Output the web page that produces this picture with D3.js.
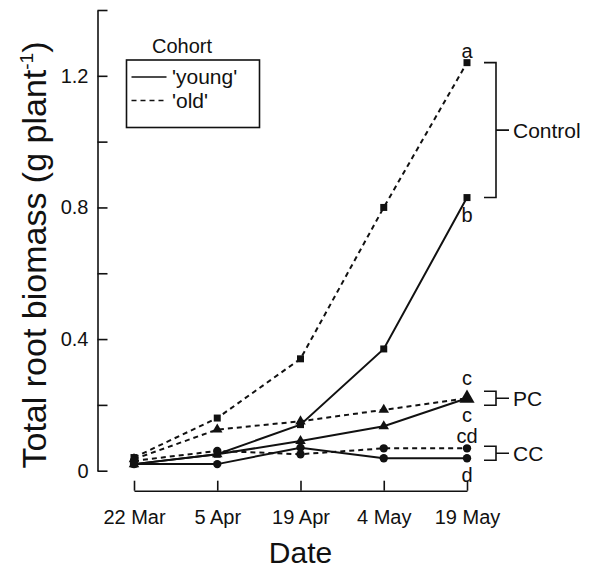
<!DOCTYPE html>
<html>
<head>
<meta charset="utf-8">
<script src="https://cdn.jsdelivr.net/npm/d3@7"></script>
<style>
  body { margin: 0; background: #fff; }
  svg { font-family: "Liberation Sans", Arial, sans-serif; }
</style>
</head>
<body>
<svg id="chart"></svg>
<script>
// dates and biomass (g plant-1)
const dates = ["22 Mar", "5 Apr", "19 Apr", "4 May", "19 May"];
const controlOld = [0.04, 0.16, 0.34, 0.80, 1.24];
const controlYoung = [0.02, 0.05, 0.14, 0.37, 0.83];
const pcOld = [0.035, 0.125, 0.15, 0.185, 0.22];
const pcYoung = [0.02, 0.05, 0.09, 0.135, 0.22];
const ccOld = [0.03, 0.06, 0.05, 0.068, 0.068];
const ccYoung = [0.02, 0.02, 0.07, 0.038, 0.038];

const yTicks = [0, 0.2, 0.4, 0.6, 0.8, 1.0, 1.2, 1.4];
const yTickLabels = ["0", "", "0.4", "", "0.8", "", "1.2", ""];

const series = [
    { values: controlOld, cohort: "old", marker: "square" },
    { values: controlYoung, cohort: "young", marker: "square" },
    { values: pcOld, cohort: "old", marker: "triangle" },
    { values: pcYoung, cohort: "young", marker: "triangle" },
    { values: ccOld, cohort: "old", marker: "circle" },
    { values: ccYoung, cohort: "young", marker: "circle" }
];

// letters next to the last point
const letters = [
    { text: "a", s: 0, side: "above" },
    { text: "b", s: 1, side: "below" },
    { text: "c", s: 2, side: "above" },
    { text: "c", s: 3, side: "below" },
    { text: "cd", s: 4, side: "above" },
    { text: "d", s: 5, side: "below" }
];

const groups = [
    { name: "Control", s: [0, 1] },
    { name: "PC", s: [2, 3] },
    { name: "CC", s: [4, 5] }
];

const width = 591, height = 570;

const svg = d3.select("#chart")
    .attr("width", width)
    .attr("height", height);

const x = d3.scalePoint().domain(dates).range([134, 467]);
const y = d3.scaleLinear().domain([0, 1.4]).range([470.7, 10]);

// y axis, ticks pointing inward
const yAxis = svg.append("g")
    .attr("transform", "translate(97.5,0)")
    .call(d3.axisLeft(y)
        .tickValues(yTicks)
        .tickFormat((d, i) => yTickLabels[i])
        .tickSizeInner(-10)
        .tickSizeOuter(0)
        .tickPadding(9));

// x axis below, ticks pointing up
const xAxis = svg.append("g")
    .attr("transform", "translate(0,490.7)")
    .call(d3.axisBottom(x)
        .tickSizeInner(-10)
        .tickSizeOuter(0)
        .tickPadding(19));

[yAxis, xAxis].forEach(ax => {
    ax.selectAll("path, line").attr("stroke", "#111").attr("stroke-width", 1.6);
    ax.selectAll("text")
        .attr("fill", "#111")
        .style("font-size", "20px")
        .style("font-family", "Liberation Sans, Arial, sans-serif");
});

// axis titles
svg.append("text")
    .attr("x", (134 + 467) / 2)
    .attr("y", 563)
    .attr("text-anchor", "middle")
    .style("font-size", "30px")
    .attr("fill", "#111")
    .text("Date");

const yTitle = svg.append("text")
    .attr("transform", "translate(46,255) rotate(-90)")
    .attr("text-anchor", "middle")
    .style("font-size", "34px")
    .attr("fill", "#111");
yTitle.append("tspan").text("Total root biomass (g plant");
yTitle.append("tspan").attr("dy", -13).style("font-size", "19px").text("-1");
yTitle.append("tspan").attr("dy", 13).text(")");

// lines
const line = d3.line()
    .x((d, i) => x(dates[i]))
    .y(d => y(d));

svg.selectAll(".series")
    .data(series)
    .enter()
    .append("path")
    .attr("class", "series")
    .attr("fill", "none")
    .attr("stroke", "#111")
    .attr("stroke-width", 2)
    .attr("stroke-dasharray", d => d.cohort === "old" ? "5,4" : null)
    .attr("d", d => line(d.values));

// markers
const symbolFor = { square: d3.symbolSquare, triangle: d3.symbolTriangle, circle: d3.symbolCircle };
const sizeFor = { square: 49, triangle: 48, circle: 55 };

series.forEach((s, si) => {
    svg.selectAll(".m" + si)
        .data(s.values)
        .enter()
        .append("path")
        .attr("class", "m" + si)
        .attr("transform", (d, i) => `translate(${x(dates[i])},${y(d)})`)
        .attr("fill", "#111")
        .attr("d", (d, i) => {
            let size = sizeFor[s.marker];
            // the overlapping PC triangles at the last date look bigger
            if (s.marker === "triangle" && s.cohort === "young" && i === dates.length - 1) size = 100;
            return d3.symbol().type(symbolFor[s.marker]).size(size)();
        });
});

// significance letters
const last = dates.length - 1;
svg.selectAll(".letter")
    .data(letters)
    .enter()
    .append("text")
    .attr("class", "letter")
    .attr("x", x(dates[last]))
    .attr("y", d => {
        const v = y(series[d.s].values[last]);
        const m = series[d.s].marker;
        if (d.side === "below") return v + 24;
        return v - (m === "triangle" ? 13 : 5);
    })
    .attr("text-anchor", "middle")
    .style("font-size", "20px")
    .attr("fill", "#111")
    .text(d => d.text);

// brackets
groups.forEach(g => {
    const ys = g.s.map(i => y(series[i].values[last]));
    const mid = (d3.min(ys) + d3.max(ys)) / 2;
    const half = Math.max((d3.max(ys) - d3.min(ys)) / 2, 7);
    const top = mid - half, bot = mid + half;
    const bx = 496;
    svg.append("path")
        .attr("fill", "none")
        .attr("stroke", "#111")
        .attr("stroke-width", 1.6)
        .attr("d", `M484,${top}H${bx}V${bot}H484M${bx},${mid}H509`);
    svg.append("text")
        .attr("x", 513)
        .attr("y", mid)
        .attr("dy", "0.36em")
        .style("font-size", "21px")
        .attr("fill", "#111")
        .text(g.name);
});

// legend
svg.append("text")
    .attr("x", 152)
    .attr("y", 52.5)
    .style("font-size", "20px")
    .attr("fill", "#111")
    .text("Cohort");

svg.append("rect")
    .attr("x", 126.5)
    .attr("y", 60)
    .attr("width", 133)
    .attr("height", 67.5)
    .attr("fill", "none")
    .attr("stroke", "#111")
    .attr("stroke-width", 1.6);

const legendItems = [
    { label: "'young'", cohort: "young" },
    { label: "'old'", cohort: "old" }
];

legendItems.forEach((d, i) => {
    const ly = 77 + i * 23.5;
    svg.append("line")
        .attr("x1", 131.5).attr("x2", 166.5)
        .attr("y1", ly).attr("y2", ly)
        .attr("stroke", "#111")
        .attr("stroke-width", 1.6)
        .attr("stroke-dasharray", d.cohort === "old" ? "5,4" : null);
    svg.append("text")
        .attr("x", 172)
        .attr("y", ly)
        .attr("dy", "0.35em")
        .style("font-size", "21px")
        .attr("fill", "#111")
        .text(d.label);
});
</script>
</body>
</html>
